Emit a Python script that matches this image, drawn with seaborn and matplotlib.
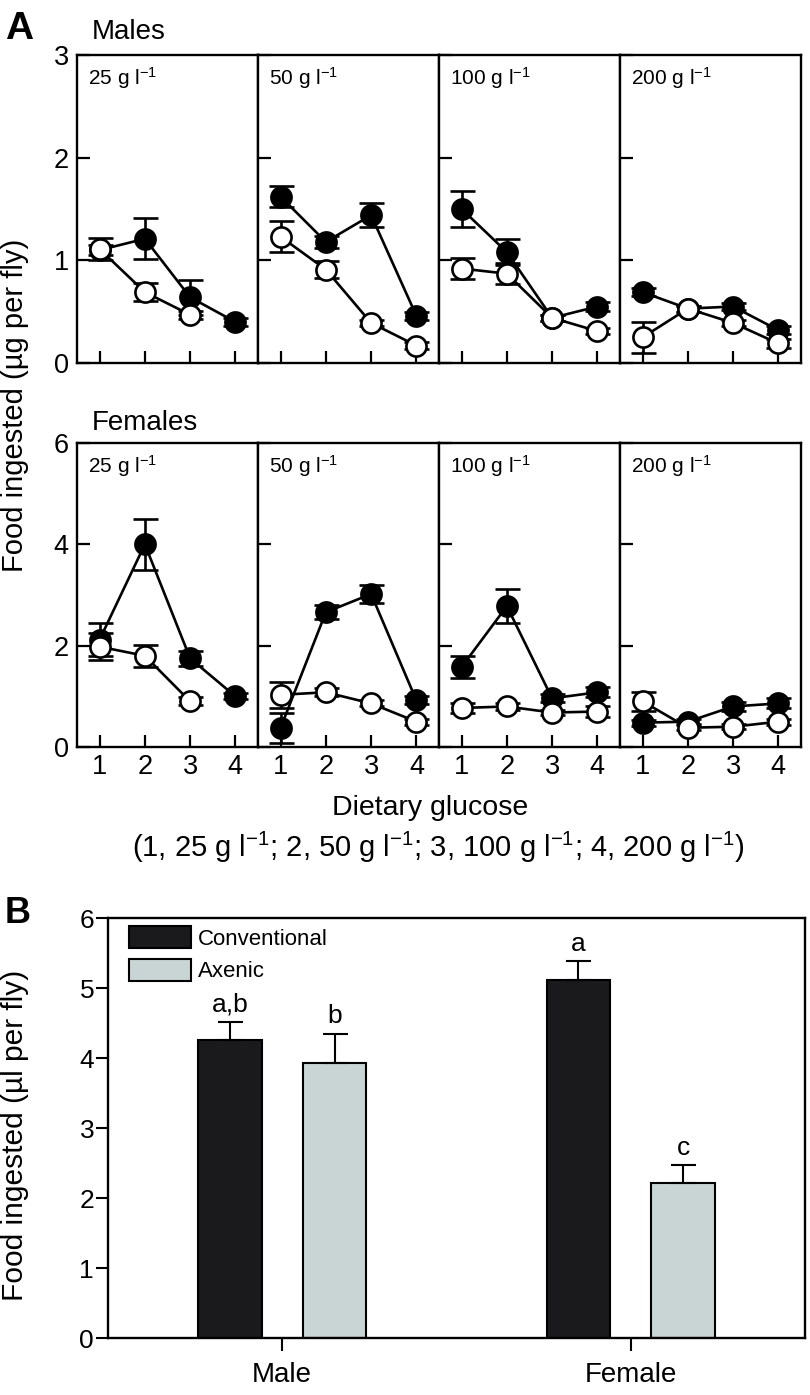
import numpy as np
import pandas as pd
import matplotlib
matplotlib.use("Agg")
import matplotlib.pyplot as plt
import seaborn as sns

# ---------------- data ----------------
nan = np.nan
panel_labels = ["25", "50", "100", "200"]
glucose_levels = [1, 2, 3, 4]

# Males (ug per fly); rows = panel (25, 50, 100, 200 g/l), cols = dietary glucose 1..4
male_conv_mean = [[1.10, 1.21, 0.64, 0.40],
                  [1.62, 1.18, 1.44, 0.46],
                  [1.50, 1.08, 0.44, 0.55],
                  [0.69, 0.53, 0.55, 0.32]]
male_conv_se = [[0.05, 0.20, 0.17, 0.04],
                [0.10, 0.06, 0.12, 0.04],
                [0.18, 0.13, 0.03, 0.04],
                [0.04, 0.03, 0.03, 0.04]]
male_axen_mean = [[1.11, 0.69, 0.47, nan],
                  [1.23, 0.91, 0.39, 0.17],
                  [0.92, 0.87, 0.44, 0.31],
                  [0.25, 0.53, 0.39, 0.19]]
male_axen_se = [[0.11, 0.09, 0.04, nan],
                [0.15, 0.08, 0.03, 0.03],
                [0.10, 0.10, 0.03, 0.03],
                [0.15, 0.03, 0.03, 0.04]]

# Females
female_conv_mean = [[2.12, 4.00, 1.75, 1.00],
                    [0.38, 2.66, 3.02, 0.92],
                    [1.58, 2.78, 0.96, 1.08],
                    [0.48, 0.50, 0.80, 0.86]]
female_conv_se = [[0.33, 0.50, 0.15, 0.06],
                  [0.30, 0.14, 0.18, 0.08],
                  [0.22, 0.33, 0.08, 0.10],
                  [0.06, 0.05, 0.08, 0.10]]
female_axen_mean = [[1.98, 1.80, 0.90, nan],
                    [1.03, 1.08, 0.86, 0.50],
                    [0.77, 0.80, 0.68, 0.70],
                    [0.90, 0.38, 0.40, 0.50]]
female_axen_se = [[0.27, 0.22, 0.08, nan],
                  [0.26, 0.08, 0.06, 0.06],
                  [0.10, 0.06, 0.05, 0.10],
                  [0.18, 0.05, 0.05, 0.06]]

# Panel B (ul per fly)
sexes = ["Male", "Female"]
groups = ["Conventional", "Axenic"]
conv_bar = [4.26, 5.12]
conv_bar_se = [0.26, 0.26]
axen_bar = [3.93, 2.21]
axen_bar_se = [0.42, 0.26]
letters_conv = ["a,b", "a"]
letters_axen = ["b", "c"]

# ---------------- style ----------------
sns.set_theme(style="ticks")
plt.rcParams["font.family"] = ["Liberation Sans", "DejaVu Sans"]
plt.rcParams["mathtext.fontset"] = "custom"
plt.rcParams["mathtext.rm"] = "Liberation Sans"
plt.rcParams["mathtext.default"] = "regular"
plt.rcParams["axes.edgecolor"] = "black"
plt.rcParams["xtick.color"] = "black"
plt.rcParams["ytick.color"] = "black"
plt.rcParams["text.color"] = "black"

W, H = 810, 1395
fig = plt.figure(figsize=(W / 100, H / 100), dpi=100)


def add_ax(l, t, r, b):
    return fig.add_axes([l / W, 1 - b / H, (r - l) / W, (b - t) / H])


col_edges = [77, 258, 439, 620, 801]
rows = [
    dict(top=55, bot=363, ymax=3, yt=[0, 1, 2, 3], cm=male_conv_mean, cs=male_conv_se,
         am=male_axen_mean, as_=male_axen_se, xlabels=False),
    dict(top=443, bot=747, ymax=6, yt=[0, 2, 4, 6], cm=female_conv_mean, cs=female_conv_se,
         am=female_axen_mean, as_=female_axen_se, xlabels=True),
]

for row in rows:
    for j in range(4):
        ax = add_ax(col_edges[j], row["top"], col_edges[j + 1], row["bot"])
        dfc = pd.DataFrame({"x": glucose_levels, "mean": row["cm"][j], "se": row["cs"][j]}).dropna()
        dfa = pd.DataFrame({"x": glucose_levels, "mean": row["am"][j], "se": row["as_"][j]}).dropna()
        ax.errorbar(dfc["x"], dfc["mean"], yerr=dfc["se"], fmt="none", ecolor="black",
                    elinewidth=1.9, capsize=9, capthick=1.9, zorder=2)
        sns.lineplot(data=dfc, x="x", y="mean", ax=ax, color="black", marker="o",
                     markersize=14.5, markerfacecolor="black", markeredgecolor="black",
                     markeredgewidth=1.9, linewidth=1.9, errorbar=None, legend=False, zorder=3)
        ax.errorbar(dfa["x"], dfa["mean"], yerr=dfa["se"], fmt="none", ecolor="black",
                    elinewidth=1.9, capsize=9, capthick=1.9, zorder=4)
        sns.lineplot(data=dfa, x="x", y="mean", ax=ax, color="black", marker="o",
                     markersize=14.5, markerfacecolor="white", markeredgecolor="black",
                     markeredgewidth=1.9, linewidth=1.9, errorbar=None, legend=False, zorder=5)
        ax.set_xlim(0.5, 4.5)
        ax.set_ylim(0, row["ymax"])
        ax.set_xticks(glucose_levels)
        ax.set_yticks(row["yt"])
        ax.set_xlabel("")
        ax.set_ylabel("")
        ax.tick_params(axis="both", direction="in", length=9, width=1.6, labelsize=19.5)
        ax.tick_params(axis="y", pad=6)
        ax.tick_params(axis="x", pad=5)
        if j > 0:
            ax.set_yticklabels([])
        if not row["xlabels"]:
            ax.set_xticklabels([])
        for s in ax.spines.values():
            s.set_visible(True)
            s.set_linewidth(1.7)
            s.set_color("black")
        ax.annotate(panel_labels[j] + r" g l$^{-1}$", xy=(0, 1), xycoords="axes fraction",
                    xytext=(8, -21.5), textcoords="offset points", fontsize=15,
                    ha="left", va="baseline")

fig.text(5 / W, 1 - 39 / H, "A", fontsize=28, fontweight="bold", va="baseline", ha="left")
fig.text(92 / W, 1 - 39 / H, "Males", fontsize=20, va="baseline", ha="left")
fig.text(92 / W, 1 - 430 / H, "Females", fontsize=20, va="baseline", ha="left")
fig.text(15 / W, 1 - 405 / H, "Food ingested (µg per fly)", rotation=90, fontsize=21,
         va="center", ha="center")
fig.text(430 / W, 1 - 808 / H, "Dietary glucose", fontsize=20.5, va="center", ha="center")
fig.text(438 / W, 1 - 847 / H,
         r"(1, 25 g l$^{-1}$; 2, 50 g l$^{-1}$; 3, 100 g l$^{-1}$; 4, 200 g l$^{-1}$)",
         fontsize=21, va="center", ha="center")

# ---------------- panel B ----------------
axb = add_ax(108, 918, 805, 1338)
dfb = pd.DataFrame({"sex": sexes * 2,
                    "group": [groups[0]] * 2 + [groups[1]] * 2,
                    "value": conv_bar + axen_bar})
sns.barplot(data=dfb, x="sex", y="value", hue="group", order=sexes, hue_order=groups,
            palette={"Conventional": "#1a1a1c", "Axenic": "#c7d7d6"}, width=0.6, gap=0.39,
            edgecolor="black", linewidth=1.5, errorbar=None, ax=axb, legend=True)
for cont, ses, lets in zip(axb.containers, [conv_bar_se, axen_bar_se], [letters_conv, letters_axen]):
    for bar, e, let in zip(cont, ses, lets):
        xc = bar.get_x() + bar.get_width() / 2
        h = bar.get_height()
        axb.errorbar([xc], [h], yerr=[[0], [e]], fmt="none", ecolor="black",
                     elinewidth=1.5, capsize=9, capthick=1.5, zorder=3)
        axb.annotate(let, xy=(xc, h + e), xytext=(0, 4), textcoords="offset points",
                     ha="center", va="bottom", fontsize=19)
axb.set_ylim(0, 6)
axb.set_xlim(-0.5, 1.5)
axb.set_yticks([0, 1, 2, 3, 4, 5, 6])
axb.set_xlabel("")
axb.set_ylabel("")
axb.tick_params(axis="both", direction="out", length=9, width=1.5, labelsize=19)
axb.tick_params(axis="y", pad=1)
axb.tick_params(axis="x", pad=8, labelsize=20)
for s in axb.spines.values():
    s.set_visible(True)
    s.set_linewidth(1.7)
    s.set_color("black")
handles, labels = axb.get_legend_handles_labels()
axb.legend(handles, labels, loc="upper left", bbox_to_anchor=(21 / 697, 1 - 8 / 420),
           frameon=False, fontsize=16, handlelength=2.8, handleheight=1.17,
           handletextpad=0.3, labelspacing=0.4, borderaxespad=0, borderpad=0)

fig.text(5 / W, 1 - 923 / H, "B", fontsize=26, fontweight="bold", va="baseline", ha="left")
fig.text(15 / W, 1 - 1135 / H, "Food ingested (µl per fly)", rotation=90, fontsize=21.5,
         va="center", ha="center")

fig.savefig("out.png", dpi=100)
